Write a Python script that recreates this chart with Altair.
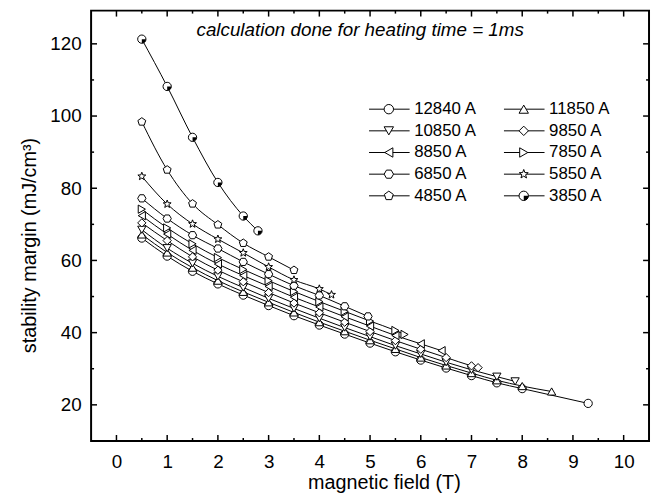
import altair as alt
import pandas as pd

# ---------------- data ----------------
labels = ["12840 A", "11850 A", "10850 A", "9850 A", "8850 A",
          "7850 A", "6850 A", "5850 A", "4850 A", "3850 A"]

field_12840 = [0.5, 1.0, 1.5, 2.0, 2.5, 3.0, 3.5, 4.0, 4.5, 5.0, 5.5, 6.0, 6.5, 7.0, 7.5, 8.0, 9.3]
margin_12840 = [66.2, 61.2, 57.0, 53.5, 50.4, 47.5, 44.7, 42.1, 39.6, 37.1, 34.7, 32.4, 30.2, 28.1, 26.1, 24.5, 20.4]

field_11850 = [0.5, 1.0, 1.5, 2.0, 2.5, 3.0, 3.5, 4.0, 4.5, 5.0, 5.5, 6.0, 6.5, 7.0, 7.5, 8.0, 8.58]
margin_11850 = [67.2, 62.2, 58.0, 54.4, 51.3, 48.4, 45.6, 42.9, 40.4, 37.9, 35.5, 33.1, 30.9, 28.8, 26.8, 25.2, 23.7]

field_10850 = [0.5, 1.0, 1.5, 2.0, 2.5, 3.0, 3.5, 4.0, 4.5, 5.0, 5.5, 6.0, 6.5, 7.0, 7.5, 7.86]
margin_10850 = [68.5, 63.4, 59.2, 55.6, 52.5, 49.5, 46.7, 44.0, 41.4, 38.9, 36.4, 34.1, 31.8, 29.7, 27.8, 26.5]

field_9850 = [0.5, 1.0, 1.5, 2.0, 2.5, 3.0, 3.5, 4.0, 4.5, 5.0, 5.5, 6.0, 6.5, 7.0, 7.13]
margin_9850 = [70.4, 65.5, 61.0, 57.3, 54.1, 51.1, 48.2, 45.5, 42.9, 40.3, 37.8, 35.4, 33.1, 30.8, 30.3]

field_8850 = [0.5, 1.0, 1.5, 2.0, 2.5, 3.0, 3.5, 4.0, 4.5, 5.0, 5.5, 6.0, 6.41]
margin_8850 = [72.4, 67.3, 62.8, 59.0, 55.8, 52.8, 49.8, 47.1, 44.4, 41.8, 39.2, 36.9, 35.0]

field_7850 = [0.5, 1.0, 1.5, 2.0, 2.5, 3.0, 3.5, 4.0, 4.5, 5.0, 5.5, 5.68]
margin_7850 = [74.2, 69.0, 64.6, 60.8, 57.5, 54.4, 51.4, 48.6, 45.9, 43.2, 40.6, 39.5]

field_6850 = [0.5, 1.0, 1.5, 2.0, 2.5, 3.0, 3.5, 4.0, 4.5, 4.96]
margin_6850 = [77.2, 71.6, 67.0, 63.3, 59.6, 56.2, 53.0, 50.3, 47.3, 44.5]

field_5850 = [0.5, 1.0, 1.5, 2.0, 2.5, 3.0, 3.5, 4.0, 4.24]
margin_5850 = [83.3, 75.6, 70.1, 65.9, 62.1, 58.2, 54.6, 52.1, 50.5]

field_4850 = [0.5, 1.0, 1.5, 2.0, 2.5, 3.0, 3.5]
margin_4850 = [98.4, 85.1, 75.7, 69.9, 64.8, 61.0, 57.3]

field_3850 = [0.5, 1.0, 1.5, 2.0, 2.5, 2.79]
margin_3850 = [121.3, 108.2, 94.1, 81.6, 72.3, 68.2]

x_tick_labels = [0, 1, 2, 3, 4, 5, 6, 7, 8, 9, 10]
x_minor = [0.5, 1.5, 2.5, 3.5, 4.5, 5.5, 6.5, 7.5, 8.5, 9.5]
y_tick_labels = [20, 40, 60, 80, 100, 120]
y_minor = [30, 50, 70, 90, 110]

annotation = "calculation done for heating time = 1ms"

# ---------------- build tables ----------------
series_fields = [field_12840, field_11850, field_10850, field_9850, field_8850,
                 field_7850, field_6850, field_5850, field_4850, field_3850]
series_margins = [margin_12840, margin_11850, margin_10850, margin_9850, margin_8850,
                  margin_7850, margin_6850, margin_5850, margin_4850, margin_3850]
rows = []
for lab, fx, my in zip(labels, series_fields, series_margins):
    for a, b in zip(fx, my):
        rows.append({"series": lab, "field": a, "margin": b})
df = pd.DataFrame(rows)

HEX = "M-1,0L-0.5,-0.866L0.5,-0.866L1,0L0.5,0.866L-0.5,0.866Z"
PENT = "M0,-1L0.951,-0.309L0.588,0.809L-0.588,0.809L-0.951,-0.309Z"
STAR = ("M0,-1L0.247,-0.34L0.951,-0.309L0.399,0.13L0.588,0.809L0,0.42"
        "L-0.588,0.809L-0.399,0.13L-0.951,-0.309L-0.247,-0.34Z")
QUARTER = "M0,0L1,0A1,1,0,0,1,0,1Z"
shapes = ["circle", "triangle-up", "triangle-down", "diamond", "triangle-left",
          "triangle-right", HEX, STAR, PENT, "circle"]

W, H = 564, 435
FONT = "Liberation Sans"
xs = alt.Scale(domain=[-0.5, 10.5], nice=False, zero=False)
ys = alt.Scale(domain=[10, 129.2], nice=False, zero=False)
shape_scale = alt.Scale(domain=labels, range=shapes)

xaxis = alt.Axis(values=x_tick_labels, title="magnetic field (T)", ticks=False, domain=False,
                 grid=False, labelFontSize=19, titleFontSize=20, labelPadding=12,
                 titleX=296, titleY=42, titleBaseline="middle", titleAlign="center",
                 labelFont=FONT, titleFont=FONT, titleFontWeight="normal",
                 labelColor="black", titleColor="black", format="d")
yaxis = alt.Axis(values=y_tick_labels, title="stability margin (mJ/cm³)", ticks=False, domain=False,
                 grid=False, labelFontSize=19, titleFontSize=20, labelPadding=10,
                 titleX=-62, titleY=237, titleBaseline="middle", titleAlign="center", titleAngle=270,
                 labelFont=FONT, titleFont=FONT, titleFontWeight="normal",
                 labelColor="black", titleColor="black", format="d")


def X(f):
    return alt.X(f, scale=xs, axis=xaxis)


def Y(f):
    return alt.Y(f, scale=ys, axis=yaxis)


lines = alt.Chart(df).mark_line(color="black", strokeWidth=1, interpolate="monotone").encode(
    x=X("field:Q"), y=Y("margin:Q"),
    detail="series:N",
    order=alt.Order("field:Q"),
)

points = alt.Chart(df).mark_point(filled=True, fill="white", stroke="black", strokeWidth=1,
                                  size=70, opacity=1).encode(
    x=X("field:Q"), y=Y("margin:Q"),
    shape=alt.Shape("series:N", scale=shape_scale, legend=None),
)

half = alt.Chart(df[df["series"] == "3850 A"]).mark_point(
    filled=True, fill="black", strokeWidth=0, size=70, opacity=1, shape=QUARTER).encode(
    x=X("field:Q"), y=Y("margin:Q"),
)

# ---------------- inward frame ticks ----------------
xmaj = pd.DataFrame({"field": x_tick_labels})
xmin = pd.DataFrame({"field": x_minor})
ymaj = pd.DataFrame({"margin": y_tick_labels})
ymin = pd.DataFrame({"margin": y_minor})


def xticks(data, length):
    b = alt.Chart(data).mark_rule(color="black", strokeWidth=1.5).encode(
        x=X("field:Q"), y=alt.value(H), y2=alt.value(H - length))
    t = alt.Chart(data).mark_rule(color="black", strokeWidth=1.5).encode(
        x=X("field:Q"), y=alt.value(0), y2=alt.value(length))
    return [b, t]


def yticks(data, length):
    l = alt.Chart(data).mark_rule(color="black", strokeWidth=1.5).encode(
        y=Y("margin:Q"), x=alt.value(0), x2=alt.value(length))
    r = alt.Chart(data).mark_rule(color="black", strokeWidth=1.5).encode(
        y=Y("margin:Q"), x=alt.value(W), x2=alt.value(W - length))
    return [l, r]


tick_layers = xticks(xmaj, 6) + xticks(xmin, 3) + yticks(ymaj, 6) + yticks(ymin, 3)

# ---------------- legend (drawn in data space) ----------------
leg_rows = []
for i, lab in enumerate(labels):
    col, row = i % 2, i // 2
    sym_x = [5.37, 8.03][col]
    leg_rows.append({"series": lab, "sx": sym_x, "lx1": sym_x - 0.39, "lx2": sym_x + 0.41,
                     "tx": sym_x + 0.50, "ly": 101.9 - row * 6.0})
leg = pd.DataFrame(leg_rows)

leg_lines = alt.Chart(leg).mark_rule(color="black", strokeWidth=1).encode(
    x=X("lx1:Q"), x2="lx2:Q", y=Y("ly:Q"))
leg_pts = alt.Chart(leg).mark_point(filled=True, fill="white", stroke="black", strokeWidth=1,
                                    size=90, opacity=1).encode(
    x=X("sx:Q"), y=Y("ly:Q"),
    shape=alt.Shape("series:N", scale=shape_scale, legend=None))
leg_half = alt.Chart(leg[leg["series"] == "3850 A"]).mark_point(
    filled=True, fill="black", strokeWidth=0, size=90, opacity=1, shape=QUARTER).encode(
    x=X("sx:Q"), y=Y("ly:Q"))
leg_text = alt.Chart(leg).mark_text(align="left", baseline="middle", fontSize=17, font=FONT,
                                    color="black").encode(
    x=X("tx:Q"), y=Y("ly:Q"), text="series:N")

note = alt.Chart(pd.DataFrame({"t": [annotation]})).mark_text(
    align="center", baseline="middle", fontSize=19, font=FONT, fontStyle="italic",
    color="black").encode(x=alt.value(272), y=alt.value(20), text="t:N")

chart = alt.layer(
    lines, points, half, *tick_layers, leg_lines, leg_pts, leg_half, leg_text, note
).properties(
    width=W, height=H,
    background="white",
    autosize=alt.AutoSizeParams(type="none"),
    padding={"left": 84, "top": 0, "right": 2, "bottom": 53},
).configure_view(stroke="black", strokeWidth=2)

chart.save("out.html", embed_options={"renderer": "svg", "actions": False})
